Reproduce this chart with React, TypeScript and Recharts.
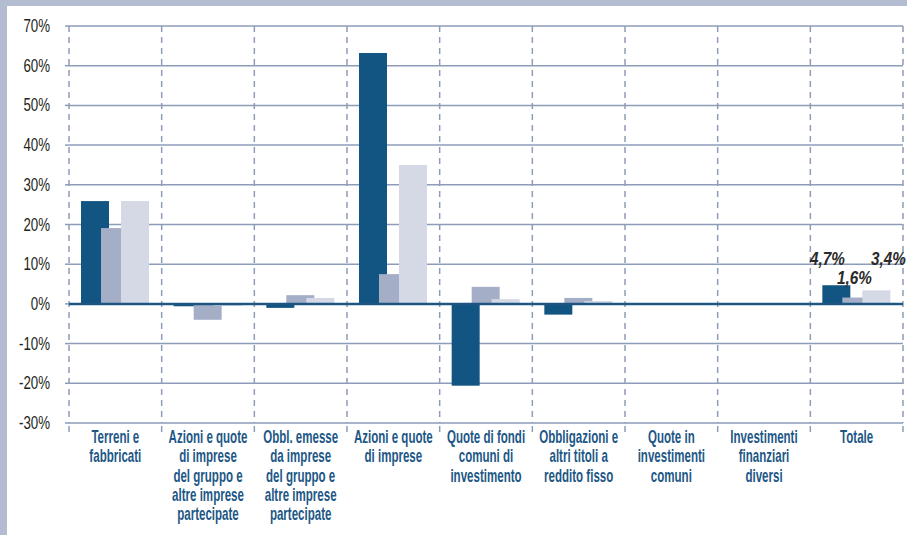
import React from 'react';
import { Bar, BarChart, CartesianGrid, ReferenceLine, XAxis, YAxis } from 'recharts';

// categorie (a capo con \n come nell'originale)
const categories = [
    'Terreni e\nfabbricati',
    'Azioni e quote\ndi imprese\ndel gruppo e\naltre imprese\npartecipate',
    'Obbl. emesse\nda imprese\ndel gruppo e\naltre imprese\npartecipate',
    'Azioni e quote\ndi imprese',
    'Quote di fondi\ncomuni di\ninvestimento',
    'Obbligazioni e\naltri titoli a\nreddito fisso',
    'Quote in\ninvestimenti\ncomuni',
    'Investimenti\nfinanziari\ndiversi',
    'Totale',
];

const serie1 = [25.9, -0.6, -1.0, 63.2, -20.6, -2.7, 0, 0, 4.7];
const serie2 = [19.1, -4.0, 2.2, 7.5, 4.3, 1.5, 0, 0, 1.6];
const serie3 = [25.9, -0.5, 1.5, 35.0, 1.2, 0.7, 0, 0, 3.4];

const yTicks = [-30, -20, -10, 0, 10, 20, 30, 40, 50, 60, 70];
const boundaryTicks = [0, 1, 2, 3, 4, 5, 6, 7, 8, 9];

const data = categories.map((name, i) => ({
    name,
    slot: i + 0.5,
    s1: serie1[i],
    s2: serie2[i],
    s3: serie3[i],
}));

const FONT = '"Liberation Sans", Arial, sans-serif';
const GRID = '#8d9cb8';
const DARK = '#135582';
const MID = '#a4aec6';
const LIGHT = '#d4d9e5';

const CategoryTick = (props: any) => {
    const { x, y, payload } = props;
    const lines = String(payload.value).split('\n');
    return (
        <g transform={`translate(${x},${y})`}>
            <text
                transform="scale(0.66,1)"
                textAnchor="middle"
                fill="#1d5786"
                fontFamily={FONT}
                fontWeight="bold"
                fontSize={17.5}
            >
                {lines.map((l, i) => (
                    <tspan key={i} x={0} dy={i === 0 ? 8 : 19.3}>
                        {l}
                    </tspan>
                ))}
            </text>
        </g>
    );
};

const YTick = (props: any) => {
    const { x, y, payload } = props;
    return (
        <g transform={`translate(${x},${y})`}>
            <text transform="scale(0.76,1)" textAnchor="end" dy={6} fill="#231f20" fontFamily={FONT} fontSize={17.5}>
                {`${payload.value}%`}
            </text>
        </g>
    );
};

const fmt = (v: number) => v.toFixed(1).replace('.', ',') + '%';

// barra + etichetta solo sul "Totale"
const makeShape = (key: string, fill: string, dx: number, dy: number) => (props: any) => {
    const { x, y, width, height, index, payload } = props;
    const top = Math.min(y, y + height);
    const h = Math.abs(height);
    const value = payload ? payload[key] : props.value;
    return (
        <g>
            <rect x={x} y={top} width={width} height={h} fill={fill} />
            {index === categories.length - 1 && (
                <g transform={`translate(${x + width / 2 + dx},${top + dy})`}>
                    <text
                        transform="scale(0.85,1)"
                        textAnchor="middle"
                        fill="#2b2b2b"
                        fontFamily={FONT}
                        fontWeight="bold"
                        fontStyle="italic"
                        fontSize={18}
                    >
                        {fmt(value)}
                    </text>
                </g>
            )}
        </g>
    );
};

const App: React.FC = () => {
    return (
        <div style={{ position: 'absolute', left: 0, top: 0, width: 907, height: 535, background: '#b3bcd1' }}>
            <div style={{ position: 'absolute', left: 7, top: 6, width: 900, height: 529, background: '#ffffff' }} />
            <div style={{ position: 'absolute', left: 0, top: 0 }}>
                <BarChart
                    width={907}
                    height={535}
                    data={data}
                    margin={{ top: 26, right: 4, left: 0, bottom: 0 }}
                    barSize={28}
                    barGap={-8}
                >
                    <CartesianGrid
                        stroke={GRID}
                        strokeWidth={1.5}
                        horizontal={false}
                        strokeDasharray="6 5"
                        verticalCoordinatesGenerator={({ offset }: any) =>
                            boundaryTicks.map((t) => offset.left + (t * offset.width) / categories.length)
                        }
                    />
                    <CartesianGrid stroke={GRID} strokeWidth={1.5} vertical={false} />
                    <XAxis
                        xAxisId={0}
                        dataKey="slot"
                        type="number"
                        domain={[0, categories.length]}
                        ticks={boundaryTicks}
                        allowDataOverflow
                        height={12}
                        axisLine={false}
                        tickSize={9}
                        tickLine={{ stroke: GRID, strokeWidth: 1.5, strokeDasharray: '6 5' }}
                        tick={() => <g />}
                        interval={0}
                    />
                    <XAxis
                        xAxisId="cat"
                        dataKey="name"
                        height={100}
                        axisLine={false}
                        tickLine={false}
                        tickSize={0}
                        tickMargin={0}
                        interval={0}
                        tick={<CategoryTick />}
                    />
                    <YAxis
                        width={69}
                        domain={[-30, 70]}
                        ticks={yTicks}
                        interval={0}
                        axisLine={false}
                        tickSize={4}
                        tickMargin={15}
                        tickLine={{ stroke: GRID, strokeWidth: 1.5 }}
                        tick={<YTick />}
                    />
                    <Bar xAxisId="cat" dataKey="s1" fill={DARK} isAnimationActive={false} shape={makeShape('s1', DARK, -9, -20)} />
                    <Bar xAxisId="cat" dataKey="s2" fill={MID} isAnimationActive={false} shape={makeShape('s2', MID, -2, -14)} />
                    <Bar xAxisId="cat" dataKey="s3" fill={LIGHT} isAnimationActive={false} shape={makeShape('s3', LIGHT, 12, -25)} />
                    <ReferenceLine xAxisId="cat" y={0} stroke="#1d5583" strokeWidth={2.5} />
                </BarChart>
            </div>
        </div>
    );
};

export default App;
